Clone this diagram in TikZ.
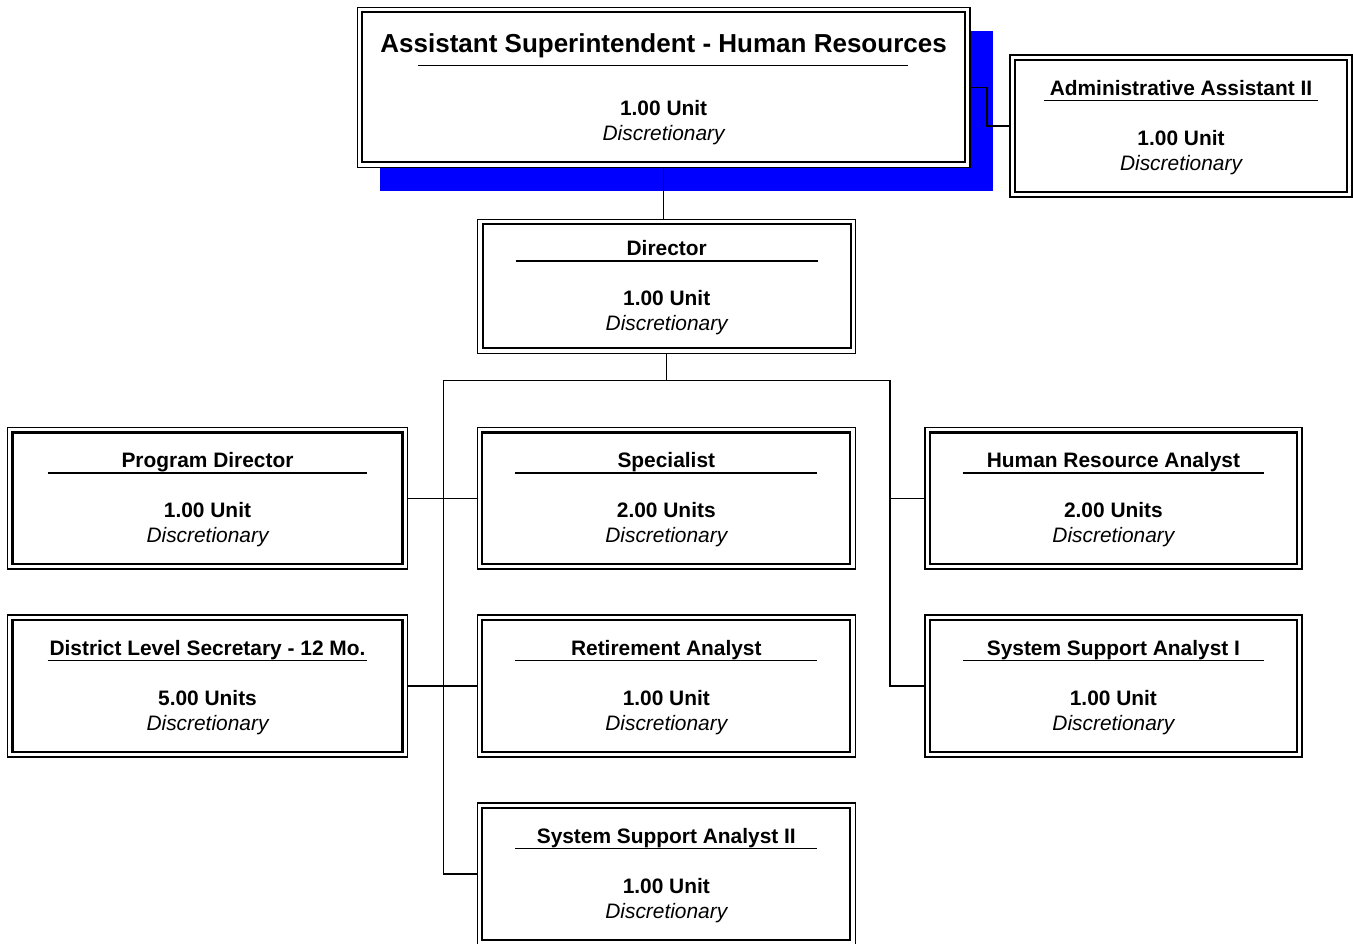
\documentclass[tikz,border=0pt]{standalone}
\usepackage{fontspec}
\setmainfont{Liberation Sans}
\usetikzlibrary{backgrounds}

\begin{document}
\begin{tikzpicture}[x=0.5pt,y=-0.5pt,
    box/.style={draw,line width=1.1pt,fill=white,inner sep=0pt,outer sep=2.5pt},
    frame/.style={line width=0.7pt},
    link/.style={line width=0.7pt},
    jobtitle/.style={anchor=base,font=\fontsize{10.45}{12}\selectfont\bfseries},
    units/.style={anchor=base,font=\fontsize{10.45}{12}\selectfont\bfseries},
    status/.style={anchor=base,font=\fontsize{10.45}{12}\selectfont\itshape}]
    \useasboundingbox (0,0) rectangle (1353,943);

    % head of the department, with its blue shadow
    \node [box,minimum width=602.7*0.5pt,minimum height=150*0.5pt] (top) at (663.6,87.3) {};
    \begin{scope}[on background layer]
        \fill [blue] ([shift={(23,24)}]top.north west) rectangle ([shift={(23,24)}]top.south east);
        \draw [frame,fill=white] (top.north west) rectangle (top.south east);
    \end{scope}
    \node [jobtitle,font=\fontsize{13}{15}\selectfont\bfseries] (top-t) at ([shift={(0,-35)}]top.center) {Assistant Superintendent - Human Resources};
    \draw [frame] ([shift={(61,-21.6)}]top.west) -- ([shift={(-62,-21.6)}]top.east);
    \node [units] (top-u) at ([shift={(0,28.2)}]top.center) {1.00 Unit};
    \node [status] (top-s) at ([shift={(0,53.2)}]top.center) {Discretionary};

    % the other positions
    \foreach \n/\x/\y/\w/\h/\t/\u in {
        asst/1181/126/332/132/Administrative Assistant II/1.00 Unit,
        dir/666.7/286.3/368/124/Director/1.00 Unit,
        pd/207.5/498.3/390/131.5/Program Director/1.00 Unit,
        spec/666.3/498.3/368/131.5/Specialist/2.00 Units,
        hra/1113.4/498.3/367/131.5/Human Resource Analyst/2.00 Units,
        dls/207.5/686/390/132/District Level Secretary - 12 Mo./5.00 Units,
        ret/666.3/686/368/132/Retirement Analyst/1.00 Unit,
        ssa1/1113.4/686/367/132/System Support Analyst I/1.00 Unit,
        ssa2/666.3/874/368/132/System Support Analyst II/1.00 Unit}{
        \node [box,minimum width=\w*0.5pt,minimum height=\h*0.5pt] (\n) at (\x,\y) {};
        \draw [frame] (\n.north west) rectangle (\n.south east);
        \pgfmathsetmacro\r{0.103*\w}
        \node [jobtitle] (\n-t) at ([shift={(0,-30.5)}]\n.center) {\t};
        \draw [frame] ([shift={(\r,-25.3)}]\n.west) -- ([shift={(-\r,-25.3)}]\n.east);
        \node [units] (\n-u) at ([shift={(0,19.5)}]\n.center) {\u};
        \node [status] (\n-s) at ([shift={(0,44.5)}]\n.center) {Discretionary};
    }

    % connectors
    \coordinate (busl) at (443.3,380.7);
    \coordinate (busr) at (890,380.7);
    \draw [link] (top.south) -- (top.south |- dir.north);
    \draw [link] (top.east) -- ++(17,0) |- (asst.west);
    \draw [link] (dir.south) |- (busl) |- (ssa2.west);
    \draw [link] (dir.south) |- (busr) |- (ssa1.west);
    \draw [link] (pd.east) -- (spec.west);
    \draw [link] (dls.east) -- (ret.west);
    \draw [link] (busr |- hra.west) -- (hra.west);
\end{tikzpicture}
\end{document}
